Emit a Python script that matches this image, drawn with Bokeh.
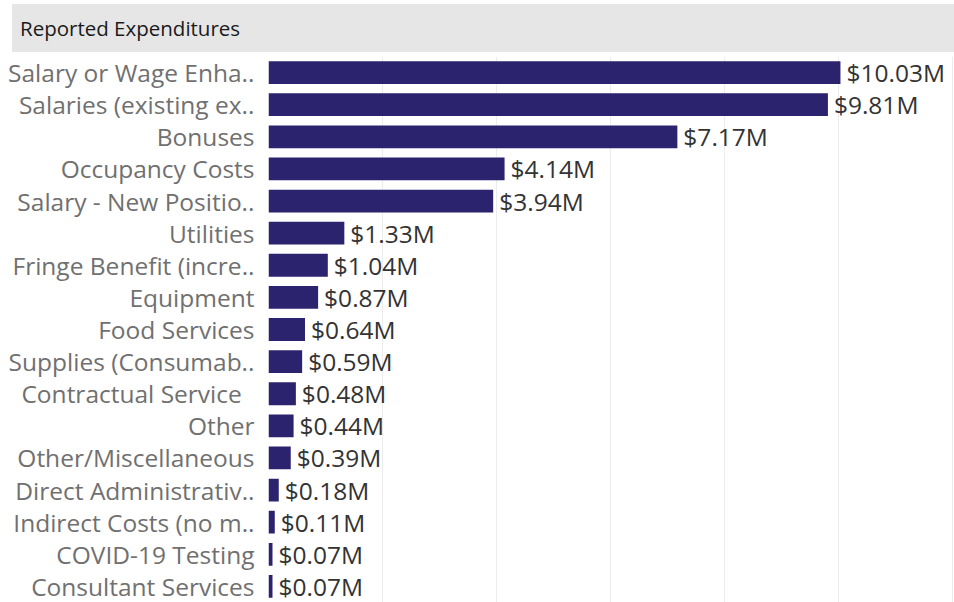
from bokeh.plotting import figure
from bokeh.models import ColumnDataSource, Range1d, FixedTicker, Div
from bokeh.layouts import column
from bokeh.embed import file_html
from bokeh.resources import INLINE
from bokeh.core.properties import value

categories = [
    "Salary or Wage Enha..",
    "Salaries (existing ex..",
    "Bonuses",
    "Occupancy Costs",
    "Salary - New Positio..",
    "Utilities",
    "Fringe Benefit (incre..",
    "Equipment",
    "Food Services",
    "Supplies (Consumab..",
    "Contractual Service\u00a0\u00a0",
    "Other",
    "Other/Miscellaneous",
    "Direct Administrativ..",
    "Indirect Costs (no m..",
    "COVID-19 Testing",
    "Consultant Services",
]
expenditures_m = [10.03, 9.81, 7.17, 4.14, 3.94, 1.33, 1.04, 0.87, 0.64, 0.59,
                  0.48, 0.44, 0.39, 0.18, 0.11, 0.07, 0.07]
grid_ticks = [0, 2, 4, 6, 8, 10, 12]
title_text = "Reported Expenditures"

FONT = "Open Sans"
BAR = "#2c236e"
FS = "24.5px"

idx = list(range(len(categories)))
src = ColumnDataSource(dict(
    y=idx,
    v=expenditures_m,
    lab=[f"${v:.2f}M" for v in expenditures_m],
))

# Title bar
t = Div(text=title_text, width=942, height=48, margin=(4, 0, 0, 12),
        styles={
            "background-color": "#e6e6e6",
            "font-family": FONT,
            "font-size": "20.5px",
            "color": "#1a1a1a",
            "line-height": "48px",
            "padding-left": "8px",
            "box-sizing": "border-box",
            "width": "942px",
            "height": "48px",
            "white-space": "nowrap",
        })

# Main chart
p = figure(width=954, height=550, toolbar_location=None, output_backend="svg",
           x_range=Range1d(0, 12.03),
           y_range=Range1d(len(categories) - 0.5, -0.5),
           min_border_left=268, min_border_right=0, min_border_top=4,
           min_border_bottom=0, outline_line_color=None,
           background_fill_color="white", border_fill_color="white")

p.hbar(y="y", right="v", left=0, height=0.71, source=src,
       fill_color=BAR, line_color=None)
p.text(x="v", y="y", text="lab", source=src, x_offset=6, y_offset=0,
       text_font=value(FONT), text_font_size=FS, text_color="#333333",
       text_baseline="middle", text_align="left")

p.xaxis.visible = False
p.xgrid.ticker = FixedTicker(ticks=grid_ticks)
p.xgrid.grid_line_color = "#ececec"
p.xgrid.grid_line_width = 1
p.ygrid.visible = False

ya = p.yaxis[0]
ya.ticker = FixedTicker(ticks=idx)
ya.major_label_overrides = {i: c for i, c in zip(idx, categories)}
ya.axis_line_color = None
ya.major_tick_line_color = None
ya.minor_tick_line_color = None
ya.major_label_standoff = 8
ya.major_label_text_font = FONT
ya.major_label_text_font_size = FS
ya.major_label_text_color = "#707070"

layout = column(t, p, spacing=0)
open("out.html", "w").write(file_html(layout, INLINE))
